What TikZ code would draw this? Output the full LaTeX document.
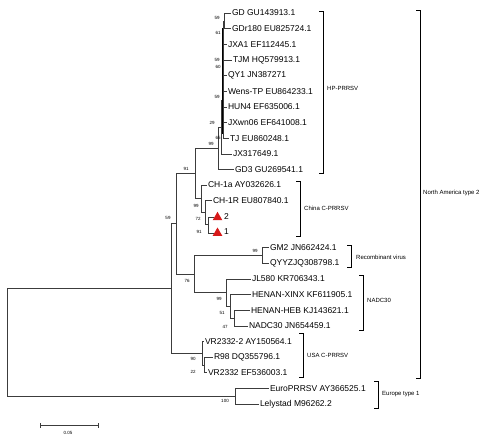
\documentclass[tikz,border=0pt]{standalone}
\usepackage{fontspec}
\setmainfont{Liberation Sans}
\usetikzlibrary{shapes.geometric}
\definecolor{linec}{RGB}{60,60,60}
\definecolor{trired}{RGB}{215,25,25}
\begin{document}
\begin{tikzpicture}[x=1pt,y=-1pt,
  br/.style={draw=linec,line width=0.6pt},
  leaf/.style={anchor=west,inner sep=0.8pt,font=\fontsize{8.5}{9}\selectfont},
  bs/.style={inner sep=0pt,font=\fontsize{4.5}{5}\selectfont},
  clade/.style={anchor=west,inner sep=0pt,font=\fontsize{6}{7}\selectfont},
  brk/.style={draw=black,line width=0.5pt},
  tri/.style={regular polygon,regular polygon sides=3,fill=trired,inner sep=0pt,minimum size=11pt}]
\useasboundingbox (0,0) rectangle (500,440);
% internal nodes
\coordinate (root) at (7,342.3);
\coordinate (na) at (171,288.4);
\coordinate (eu) at (235,396.2);
\coordinate (n59) at (176,223.7);
\coordinate (usa) at (202,353.1);
\coordinate (s22) at (204,364.9);
\coordinate (n91) at (195,173.4);
\coordinate (n76) at (194,274.0);
\coordinate (hp) at (218,148.1);
\coordinate (jx) at (221,126.9);
\coordinate (core) at (223,100);
\coordinate (coreT) at (223,28);
\coordinate (coreB) at (223,134);
\coordinate (gdp) at (224,20.8);
\coordinate (chn) at (201,198.7);
\coordinate (s) at (205,212.4);
\coordinate (ss) at (208,224.1);
\coordinate (gm) at (262,255.4);
\coordinate (nadc) at (226,292.6);
\coordinate (ns1) at (230,306.2);
\coordinate (ns2) at (234,318.0);
% leaves
\node[leaf] (gd) at (231,13) {GD GU143913.1};
\node[leaf] (gdr) at (231,28.6) {GDr180 EU825724.1};
\node[leaf] (jxa) at (227,44.3) {JXA1 EF112445.1};
\node[leaf] (tjm) at (232,59.9) {TJM HQ579913.1};
\node[leaf] (qy) at (227,75.6) {QY1 JN387271};
\node[leaf] (wens) at (227,91.2) {Wens-TP EU864233.1};
\node[leaf] (hun) at (227,106.8) {HUN4 EF635006.1};
\node[leaf] (jxw) at (227,122.5) {JXwn06 EF641008.1};
\node[leaf] (tj) at (229,138.1) {TJ EU860248.1};
\node[leaf] (jx3) at (232,153.8) {JX317649.1};
\node[leaf] (gd3) at (234,169.4) {GD3 GU269541.1};
\node[leaf] (ch1a) at (207,185) {CH-1a AY032626.1};
\node[leaf] (ch1r) at (212,200.7) {CH-1R EU807840.1};
\node[tri] (t2) at (217.5,217.3) {};
\node[tri] (t1) at (217.5,233) {};
\node[leaf] (l2) at (223,216.3) {2};
\node[leaf] (l1) at (223,232) {1};
\node[leaf] (gm2) at (269,247.6) {GM2 JN662424.1};
\node[leaf] (qyyz) at (269,263.2) {QYYZJQ308798.1};
\node[leaf] (jl) at (251,278.9) {JL580 KR706343.1};
\node[leaf] (hx) at (251,294.5) {HENAN-XINX KF611905.1};
\node[leaf] (hh) at (250,310.2) {HENAN-HEB KJ143621.1};
\node[leaf] (nadc30) at (248,325.8) {NADC30 JN654459.1};
\node[leaf] (vr2) at (204,341.4) {VR2332-2 AY150564.1};
\node[leaf] (r98) at (213,357) {R98 DQ355796.1};
\node[leaf] (vr) at (207,372.7) {VR2332 EF536003.1};
\node[leaf] (euro) at (269,388.4) {EuroPRRSV AY366525.1};
\node[leaf] (lely) at (259,404) {Lelystad M96262.2};
% branches
\draw[br] (root) |- (na);
\draw[br] (root) |- (eu);
\draw[br] (eu) |- (euro.west);
\draw[br] (eu) |- (lely.west);
\draw[br] (na) |- (n59);
\draw[br] (na) |- (usa);
\draw[br] (usa) |- (vr2.west);
\draw[br] (usa) |- (s22);
\draw[br] (s22) |- (r98.west);
\draw[br] (s22) |- (vr.west);
\draw[br] (n59) |- (n91);
\draw[br] (n59) |- (n76);
\draw[br] (n76) |- (gm);
\draw[br] (n76) |- (nadc);
\draw[br] (gm) |- (gm2.west);
\draw[br] (gm) |- (qyyz.west);
\draw[br] (nadc) |- (jl.west);
\draw[br] (nadc) |- (ns1);
\draw[br] (ns1) |- (hx.west);
\draw[br] (ns1) |- (ns2);
\draw[br] (ns2) |- (hh.west);
\draw[br] (ns2) |- (nadc30.west);
\draw[br] (n91) |- (hp);
\draw[br] (n91) |- (chn);
\draw[br] (chn) |- (ch1a.west);
\draw[br] (chn) |- (s);
\draw[br] (s) |- (ch1r.west);
\draw[br] (s) |- (ss);
\draw[br] (ss) |- (t2.west);
\draw[br] (ss) |- (t1.west);
\draw[br] (hp) |- (gd3.west);
\draw[br] (hp) |- (jx);
\draw[br] (jx) |- (jx3.west);
\draw[br] (jx) |- (core);
\draw[draw=black,line width=1.3pt] (coreT) -- (coreB);
\draw[br] (core) |- (gdp);
\draw[br] (gdp) |- (gd.west);
\draw[br] (gdp) |- (gdr.west);
\draw[br] (core) |- (jxa.west);
\draw[br] (core) |- (tjm.west);
\draw[br] (core) |- (qy.west);
\draw[br] (core) |- (wens.west);
\draw[br] (core) |- (hun.west);
\draw[br] (core) |- (jxw.west);
\draw[br] (core) |- (tj.west);
% bootstrap values
\node[bs] (b1) at (217,18) {59};
\node[bs] (b2) at (218,33) {61};
\node[bs] (b3) at (217,60) {59};
\node[bs] (b4) at (218,67) {60};
\node[bs] (b5) at (217,97) {59};
\node[bs] (b6) at (212,123) {29};
\node[bs] (b7) at (218,138) {65};
\node[bs] (b8) at (211,144) {99};
\node[bs] (b9) at (186,169) {91};
\node[bs] (b10) at (196,206) {99};
\node[bs] (b11) at (198,219) {72};
\node[bs] (b12) at (199,232) {91};
\node[bs] (b13) at (168,218) {59};
\node[bs] (b14) at (255,251) {99};
\node[bs] (b15) at (187,281) {76};
\node[bs] (b16) at (219,299) {99};
\node[bs] (b17) at (222,313) {51};
\node[bs] (b18) at (225,327) {47};
\node[bs] (b19) at (193,359) {90};
\node[bs] (b20) at (193,372) {22};
\node[bs] (b21) at (225,401) {100};
% clade brackets
\draw[brk] (319,11) -- (323,11) -- (323,173) -- (319,173);
\node[clade] (c1) at (327,88) {HP-PRRSV};
\draw[brk] (296,181) -- (300,181) -- (300,236) -- (296,236);
\node[clade] (c2) at (304,208) {China C-PRRSV};
\draw[brk] (347,245) -- (351,245) -- (351,267) -- (347,267);
\node[clade] (c3) at (356,257) {Recombinant virus};
\draw[brk] (359,275) -- (363,275) -- (363,330) -- (359,330);
\node[clade] (c4) at (367,300) {NADC30};
\draw[brk] (299,333) -- (303,333) -- (303,377) -- (299,377);
\node[clade] (c5) at (307,355) {USA C-PRRSV};
\draw[brk] (416,10) -- (420,10) -- (420,378) -- (416,378);
\node[clade] (c6) at (423,193) {North America type 2};
\draw[brk] (374,381) -- (378,381) -- (378,408) -- (374,408);
\node[clade] (c7) at (382,394) {Europe type 1};
% scale bar
\coordinate (sbL) at (40,425);
\coordinate (sbR) at (98,425);
\draw[br] (sbL) -- (sbR);
\draw[br] ([yshift=-2.5pt]sbL) -- ([yshift=2.5pt]sbL);
\draw[br] ([yshift=-2.5pt]sbR) -- ([yshift=2.5pt]sbR);
\node[bs] (sbt) at (68,433) {0.05};
\end{tikzpicture}
\end{document}
